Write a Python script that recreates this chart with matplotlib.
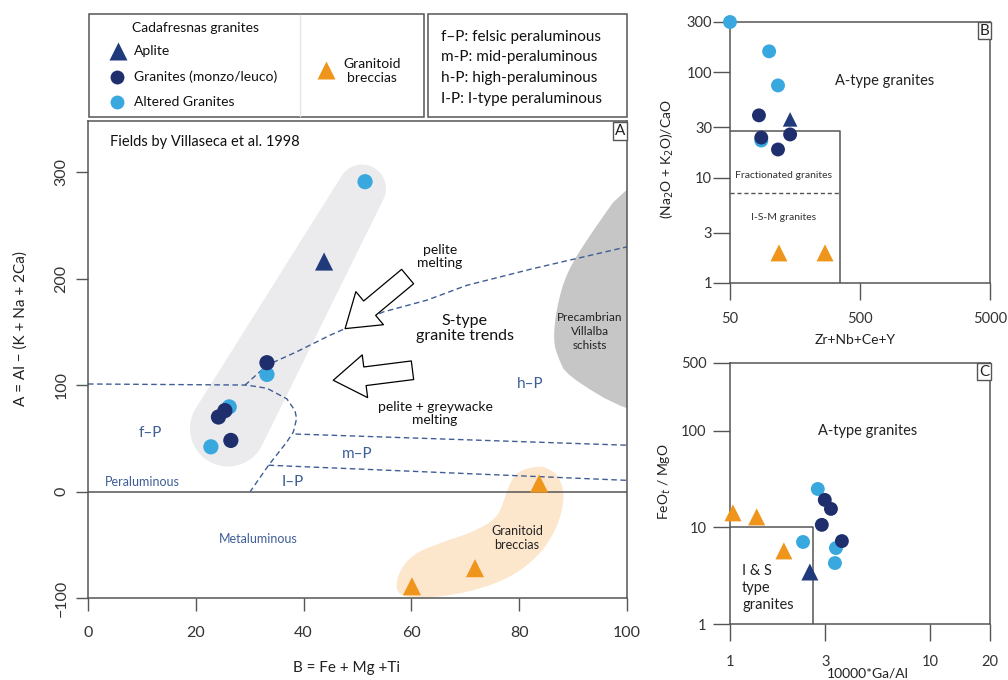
import numpy as np
import matplotlib.pyplot as plt
from matplotlib.lines import Line2D
from matplotlib.patches import Polygon, Rectangle

plt.rcParams['font.family'] = ['Lato', 'DejaVu Sans']

DARK = '#1f2f6e'
NAVY = '#203a7c'
LIGHT = '#38a8de'
ORANGE = '#ef951b'
FIELD = '#3f5e96'
SPINE = '#555555'

# ---- Panel A: B = Fe+Mg+Ti vs A = Al-(K+Na+2Ca)
a_aplite_x = [43.8]
a_aplite_y = [216]
a_gran_x = [33.2, 24.2, 25.4, 26.5]
a_gran_y = [121, 70, 76, 48]
a_alt_x = [51.4, 33.2, 26.2, 22.8]
a_alt_y = [291, 110, 79.5, 42]
a_brec_x = [60.1, 71.8, 83.7]
a_brec_y = [-89, -72, 7.5]

# ---- Panel B: Zr+Nb+Ce+Y vs (Na2O+K2O)/CaO
b_aplite_x = [145]
b_aplite_y = [35.7]
b_gran_x = [83.5, 87, 117, 145]
b_gran_y = [39, 24, 18.5, 25.7]
b_alt_x = [50, 100, 117, 87]
b_alt_y = [300, 158, 75, 22.5]
b_brec_x = [119, 269]
b_brec_y = [1.93, 1.93]

# ---- Panel C: 10000*Ga/Al vs FeOt/MgO
c_aplite_x = [2.51]
c_aplite_y = [3.45]
c_gran_x = [2.98, 3.2, 2.88, 3.63]
c_gran_y = [19.2, 15.5, 10.6, 7.2]
c_alt_x = [2.75, 2.32, 3.39, 3.35]
c_alt_y = [24.9, 7.05, 6.1, 4.27]
c_brec_x = [1.035, 1.36, 1.86]
c_brec_y = [14.1, 12.8, 5.7]

# field boundaries (Villaseca et al. 1998)
fp_x = [0, 29.4, 33.2, 36.9, 38.4, 38.7, 38.1, 36.9, 33.5, 30.1]
fp_y = [101, 100, 97, 87, 76, 68.5, 56, 46.6, 24.7, 0]
mp_x = [38.5, 100]
mp_y = [54, 43.5]
lp_x = [33.5, 100]
lp_y = [24.7, 10.5]
trend_x = [29.1, 33.2, 38.7, 44.9, 48, 54.8, 62.8, 70.3, 82.6, 100]
trend_y = [99.8, 118.6, 131.2, 146.8, 153.7, 168.7, 179.6, 193.7, 209.4, 229.8]
schist_x = [100, 93, 88.8, 86.9, 86.3, 87.3, 88.8, 100, 115, 115]
schist_y = [290, 240, 206, 172, 141, 125, 109, 75, 60, 310]
brec_field_x = [83.5, 80.1, 78.3, 77.1, 75.8, 71.5, 65.9, 60.4, 57.6, 57.0,
                59.7, 68.4, 77.7, 83.9, 87.3, 88.5, 87.3, 85.1]
brec_field_y = [23.8, 20, 9.1, -9.7, -25.4, -37.9, -47.3, -58.2, -75.4, -94.2,
                -100.5, -97.4, -83.3, -59.8, -31.6, -3.5, 15.3, 22.3]


def smooth(xy, n=3):
    xy = np.asarray(xy, float)
    for _ in range(n):
        nxt = np.roll(xy, -1, axis=0)
        out = np.empty((2 * len(xy), 2))
        out[0::2] = 0.75 * xy + 0.25 * nxt
        out[1::2] = 0.25 * xy + 0.75 * nxt
        xy = out
    return xy


def hull(pts):
    pts = sorted(set(pts))

    def cross(o, a, b):
        return (a[0] - o[0]) * (b[1] - o[1]) - (a[1] - o[1]) * (b[0] - o[0])
    lower, upper = [], []
    for p in pts:
        while len(lower) >= 2 and cross(lower[-2], lower[-1], p) <= 0:
            lower.pop()
        lower.append(p)
    for p in reversed(pts):
        while len(upper) >= 2 and cross(upper[-2], upper[-1], p) <= 0:
            upper.pop()
        upper.append(p)
    return lower[:-1] + upper[:-1]


def capsule(ax, c1, r1, c2, r2):
    # tapered rounded band, built in pixel space
    t = np.linspace(0, 2 * np.pi, 90, endpoint=False)
    pts = []
    for c, r in ((c1, r1), (c2, r2)):
        cx, cy = ax.transData.transform(c)
        pts += [(float(a), float(b)) for a, b in zip(cx + r * np.cos(t), cy + r * np.sin(t))]
    return ax.transData.inverted().transform(np.array(hull(pts)))


def style_axes(ax):
    for s in ax.spines.values():
        s.set_color(SPINE)
        s.set_linewidth(1.1)


def panel_tag(ax, s):
    ax.text(0.997, 0.994, s, transform=ax.transAxes, ha='right', va='top',
            fontsize=11, color='#222',
            bbox=dict(boxstyle='square,pad=0.12', fc='white', ec=SPINE, lw=1))


def draw_points(ax, s_circ, s_tri):
    pass


fig = plt.figure(figsize=(10.08, 6.8), dpi=100)

# ================= Panel A
axA = fig.add_axes([88 / 1008, 82 / 680, 539 / 1008, 477 / 680])
axA.set_xlim(0, 100)
axA.set_ylim(-100, 348)
style_axes(axA)
axA.set_xticks([0, 20, 40, 60, 80, 100])
axA.set_yticks([-100, 0, 100, 200, 300])
axA.tick_params(axis='x', direction='out', length=9, width=1, color=SPINE,
                labelsize=11.5, labelcolor='#333', pad=11)
axA.tick_params(axis='y', direction='out', length=9, width=1, color=SPINE,
                labelsize=11.5, labelcolor='#333', pad=5, labelrotation=90)
for t in axA.get_yticklabels():
    t.set_va('center')

axA.add_patch(Polygon(capsule(axA, (25.97, 59.2), 38, (50.83, 284.5), 24),
                      closed=True, fc='#ebebed', ec='none', zorder=1))
axA.add_patch(Polygon(smooth(np.column_stack([brec_field_x, brec_field_y])),
                      closed=True, fc='#fce6cc', ec='none', zorder=1))
axA.add_patch(Polygon(smooth(np.column_stack([schist_x, schist_y]), 2),
                      closed=True, fc='#c6c6c6', ec='none', zorder=1))

axA.axhline(0, color=SPINE, lw=1.1, zorder=2)
dash = (0, (4, 2.5))
for xs, ys in ((fp_x, fp_y), (mp_x, mp_y), (lp_x, lp_y), (trend_x, trend_y)):
    axA.plot(xs, ys, color=FIELD, lw=1, ls=dash, zorder=2)

arrow_kw = dict(arrowstyle='simple,head_length=23,head_width=31,tail_width=13.5',
                fc='white', ec='black', lw=0.9, shrinkA=0, shrinkB=0,
                mutation_scale=1)
axA.annotate('', xy=(47.7, 153), xytext=(59.3, 201.9), arrowprops=arrow_kw, zorder=3)
axA.annotate('', xy=(45.5, 104.5), xytext=(60.2, 113.9), arrowprops=arrow_kw, zorder=3)

axA.scatter(a_alt_x, a_alt_y, s=120, color=LIGHT, edgecolors='none', zorder=4)
axA.scatter(a_gran_x, a_gran_y, s=120, color=DARK, edgecolors='none', zorder=4)
axA.scatter(a_aplite_x, a_aplite_y, s=170, marker='^', color=NAVY, edgecolors='none', zorder=4)
axA.scatter(a_brec_x, a_brec_y, s=170, marker='^', color=ORANGE, edgecolors='none',
            zorder=4, clip_on=False)

axA.text(4.1, 328.6, 'Fields by Villaseca et al. 1998', fontsize=10.5, va='center', color='#111')
axA.text(65.3, 220.7, 'pelite\nmelting', fontsize=10, ha='center', va='center',
         linespacing=1.1, color='#111')
axA.text(69.9, 153, 'S-type\ngranite trends', fontsize=11.5, ha='center', va='center',
         linespacing=1.15, color='#111')
axA.text(64.4, 73.2, 'pelite + greywacke\nmelting', fontsize=10, ha='center', va='center',
         linespacing=1.1, color='#111')
axA.text(93.1, 150.2, 'Precambrian\nVillalba\nschists', fontsize=8.5, ha='center',
         va='center', linespacing=1.3, color='#222')
axA.text(79.6, -44, 'Granitoid\nbreccias', fontsize=9, ha='center', va='center',
         linespacing=1.2, color='#222')
for s, x, y, fs in (('h–P', 82, 101.4, 11), ('m–P', 49.9, 35.7, 11), ('I–P', 38, 9.4, 11),
                    ('f–P', 11.5, 54.5, 11), ('Peraluminous', 10, 9.4, 9),
                    ('Metaluminous', 31.5, -45, 9)):
    axA.text(x, y, s, fontsize=fs, ha='center', va='center', color=FIELD)
panel_tag(axA, 'A')
axA.text(0.479, -0.147, 'B = Fe + Mg +Ti', transform=axA.transAxes, ha='center',
         va='center', fontsize=11, color='#222')
axA.text(-0.1243, 0.566, 'A = Al − (K + Na + 2Ca)', transform=axA.transAxes, ha='center',
         va='center', rotation=90, fontsize=11, color='#222')

# ================= Panel B
axB = fig.add_axes([730 / 1008, 397 / 680, 260 / 1008, 261 / 680])
axB.set_xscale('log')
axB.set_yscale('log')
axB.set_xlim(50, 5000)
axB.set_ylim(1, 300)
style_axes(axB)
axB.set_xticks([50, 500, 5000])
axB.set_xticklabels(['50', '500', '5000'])
axB.set_yticks([1, 3, 10, 30, 100, 300])
axB.set_yticklabels(['1', '3', '10', '30', '100', '300'])
axB.minorticks_off()
axB.tick_params(axis='x', direction='out', length=12, width=1, color=SPINE,
                labelsize=10.5, labelcolor='#333', pad=9)
axB.tick_params(axis='y', direction='out', length=12, width=1, color=SPINE,
                labelsize=10.5, labelcolor='#333', pad=1)
axB.plot([50, 350, 350], [28, 28, 1], color=SPINE, lw=1.1, zorder=2)
axB.plot([50, 350], [7.2, 7.2], color=SPINE, lw=1, ls=(0, (3, 2)), zorder=2)
axB.scatter(b_alt_x, b_alt_y, s=100, color=LIGHT, edgecolors='none', zorder=4, clip_on=False)
axB.scatter(b_gran_x, b_gran_y, s=100, color=DARK, edgecolors='none', zorder=4)
axB.scatter(b_aplite_x, b_aplite_y, s=110, marker='^', color=NAVY, edgecolors='none', zorder=4)
axB.scatter(b_brec_x, b_brec_y, s=150, marker='^', color=ORANGE, edgecolors='none', zorder=4)
axB.text(775, 82, 'A-type granites', fontsize=10.5, ha='center', va='center', color='#222')
axB.text(128, 10.4, 'Fractionated granites', fontsize=7.5, ha='center', va='center', color='#333')
axB.text(128, 4.2, 'I-S-M granites', fontsize=7.5, ha='center', va='center', color='#333')
panel_tag(axB, 'B')
axB.text(0.48, -0.218, 'Zr+Nb+Ce+Y', transform=axB.transAxes, ha='center', va='center',
         fontsize=10, color='#222')
axB.text(-0.242, 0.475, '(Na$_2$O + K$_2$O)/CaO', transform=axB.transAxes, ha='center',
         va='center', rotation=90, fontsize=10, color='#222')

# ================= Panel C
axC = fig.add_axes([730 / 1008, 56 / 680, 260 / 1008, 261 / 680])
axC.set_xscale('log')
axC.set_yscale('log')
axC.set_xlim(1, 20)
axC.set_ylim(1, 500)
style_axes(axC)
axC.set_xticks([1, 3, 10, 20])
axC.set_xticklabels(['1', '3', '10', '20'])
axC.set_yticks([1, 10, 100, 500])
axC.set_yticklabels(['1', '10', '100', '500'])
axC.minorticks_off()
axC.tick_params(axis='x', direction='out', length=12, width=1, color=SPINE,
                labelsize=10.5, labelcolor='#333', pad=10)
axC.tick_params(axis='y', direction='out', length=12, width=1, color=SPINE,
                labelsize=10.5, labelcolor='#333', pad=5)
axC.plot([1, 2.6, 2.6], [10, 10, 1], color=SPINE, lw=1.1, zorder=2)
axC.scatter(c_alt_x, c_alt_y, s=100, color=LIGHT, edgecolors='none', zorder=4)
axC.scatter(c_gran_x, c_gran_y, s=100, color=DARK, edgecolors='none', zorder=4)
axC.scatter(c_aplite_x, c_aplite_y, s=150, marker='^', color=NAVY, edgecolors='none', zorder=4)
axC.scatter(c_brec_x, c_brec_y, s=150, marker='^', color=ORANGE, edgecolors='none',
            zorder=4, clip_on=False)
axC.text(4.9, 100, 'A-type granites', fontsize=10.5, ha='center', va='center', color='#222')
axC.text(1.15, 2.36, 'I & S\ntype\ngranites', fontsize=10.5, ha='left', va='center',
         linespacing=1.25, color='#222')
panel_tag(axC, 'C')
axC.text(0.53, -0.188, '10000*Ga/Al', transform=axC.transAxes, ha='center', va='center',
         fontsize=10, color='#222')
axC.text(-0.25, 0.544, 'FeO$_t$ / MgO', transform=axC.transAxes, ha='center',
         va='center', rotation=90, fontsize=10, color='#222')

# ================= legend boxes (pixel coordinates)
leg = fig.add_axes([0, 0, 1, 1], zorder=5)
leg.set_xlim(0, 1008)
leg.set_ylim(680, 0)
leg.axis('off')
leg.add_patch(Rectangle((89, 14), 335, 103, fc='white', ec=SPINE, lw=1.1))
leg.add_patch(Rectangle((428, 14), 199, 103, fc='white', ec=SPINE, lw=1.1))
leg.plot([300, 300], [15, 116], color='#e4e4e4', lw=1)
leg.text(195, 28, 'Cadafresnas granites', fontsize=10, ha='center', va='center', color='#111')
leg.add_line(Line2D([118], [51], marker='^', ms=13, color=NAVY, ls='none', mec='none'))
leg.add_line(Line2D([117], [77], marker='o', ms=10, color=DARK, ls='none', mec='none'))
leg.add_line(Line2D([117], [102], marker='o', ms=10, color=LIGHT, ls='none', mec='none'))
leg.add_line(Line2D([326], [70], marker='^', ms=13, color=ORANGE, ls='none', mec='none'))
leg.text(134, 51, 'Aplite', fontsize=10, va='center', color='#111')
leg.text(134, 77, 'Granites (monzo/leuco)', fontsize=10, va='center', color='#111')
leg.text(134, 102, 'Altered Granites', fontsize=10, va='center', color='#111')
leg.text(372, 71, 'Granitoid\nbreccias', fontsize=10, ha='center', va='center',
         linespacing=1.2, color='#111')
for i, s in enumerate(['f–P: felsic peraluminous', 'm-P: mid-peraluminous',
                       'h-P: high-peraluminous', 'I-P: I-type peraluminous']):
    leg.text(441, 37 + i * 20.5, s, fontsize=11, va='center', color='#111')

fig.savefig('out.png', dpi=100)
